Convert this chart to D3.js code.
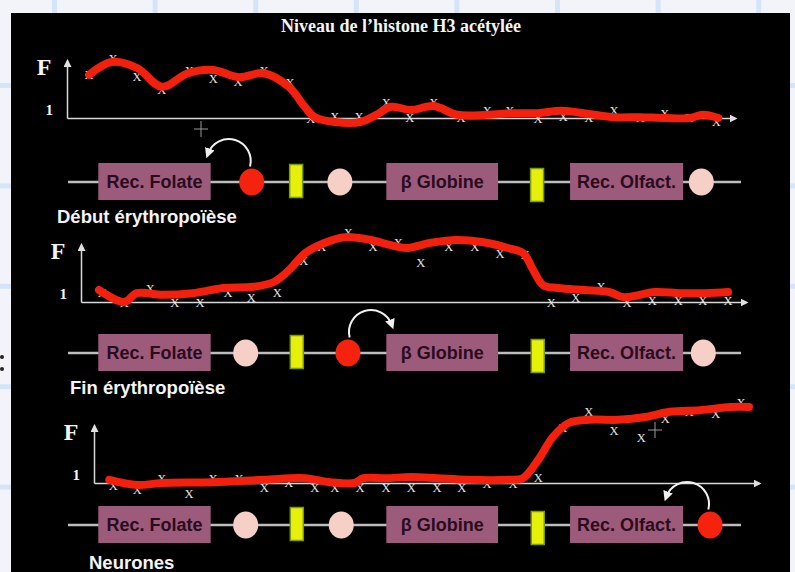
<!DOCTYPE html>
<html>
<head>
<meta charset="utf-8">
<script src="https://cdn.jsdelivr.net/npm/d3@7"></script>
<style>
  body { margin: 0; background: #f2f4fa; }
</style>
</head>
<body>
<div id="chart"></div>
<script>
// ---- data ----
var title = "Niveau de l\u2019histone H3 acétylée";
var stages = ["Début érythropoïèse", "Fin érythropoïèse", "Neurones"];
var genes = ["Rec. Folate", "\u03b2 Globine", "Rec. Olfact."];
var geneStart = [4.5, 47.3, 74.6];   // locus position, 0-100
var geneEnd = [21.2, 63.9, 91.4];

// regulatory elements: on = acetylated (red), off = pink, ins = insulator (yellow)
var elemType1 = ["on", "ins", "off", "ins", "off"];
var elemPos1 = [27.3, 33.9, 40.4, 69.7, 94.1];
var elemType2 = ["off", "ins", "on", "ins", "off"];
var elemPos2 = [26.4, 34.0, 41.6, 69.8, 94.4];
var elemType3 = ["off", "ins", "off", "ins", "on"];
var elemPos3 = [26.4, 34.0, 40.6, 69.8, 95.4];
var loopDir = [-1, 1, -1];

// measured enrichment (x marks): [position, F]
var marks1 = [[3.3,5.4],[6.9,7.4],[10.5,5.25],[14.2,3.6],[18.3,5.9],[21.9,4.9],[25.6,4.6],[29.5,5.9],[33.4,4.4],
  [36.5,0],[40.1,0.25],[43.7,0.25],[47.8,1.9],[51.3,0.1],[54.9,1.9],[59.0,0.1],[62.9,1.0],[66.3,1.0],[70.5,0],
  [74.3,0.25],[78.1,0.1],[81.9,1.0],[85.8,0.1],[89.5,0.6],[93.1,0.1],[97.2,-0.4]];
var marks2 = [[3.2,1.25],[6.5,-0.1],[10.4,1.75],[14.1,-0.1],[17.9,0],[22.1,1.25],[25.6,0.6],[29.5,1.25],[33.5,5.25],
  [36.2,6.9],[40.2,8.75],[43.9,6.9],[47.7,7.4],[51.1,4.9],[55.3,6.9],[59.2,6.9],[63.0,6.1],[66.8,5.9],[70.7,0],
  [74.4,0.6],[78.2,1.9],[82.1,0],[85.9,0.25],[89.8,0.25],[93.5,0.25],[97.3,0.25]];
var marks3 = [[2.9,-0.25],[6.5,-0.75],[10.2,0.6],[14.3,-1.25],[17.9,0.6],[21.8,0.6],[25.6,-0.6],[29.3,0.1],[33.2,-0.6],
  [36.2,-0.6],[40.0,-0.5],[43.9,-0.5],[47.7,-0.5],[51.6,-0.5],[55.3,-0.5],[59.1,-0.1],[63.0,0],[66.8,0.75],[70.5,6.9],
  [74.4,8.9],[78.2,6.6],[82.3,5.75],[85.9,8.1],[89.5,8.9],[93.5,8.75],[97.3,10.1]];

// hand-drawn trend (red): [position, F]
var trend1 = [[3.3,5.4],[6.7,7.0],[10.5,6.25],[14.2,3.9],[18.1,5.6],[21.9,6.0],[25.7,5.1],[29.5,5.6],[33.2,3.9],
  [35.6,1.4],[37.1,0.1],[40.1,-0.5],[43.9,-0.5],[46.3,0.4],[48.5,1.4],[51.5,1.0],[54.9,1.5],[58.4,0.4],[62.9,0.4],
  [66.8,0.6],[70.5,0.6],[74.0,0.9],[78.1,0.5],[81.9,0.1],[85.8,0.1],[89.5,0],[93.3,0],[95.2,0.4],[97.5,0]];
var trend2 = [[2.7,1.5],[6.5,0],[8.4,1.1],[12.2,0.9],[16.8,1.1],[21.4,1.75],[26.0,1.9],[29.0,2.5],[31.3,4.0],
  [33.7,6.1],[36.7,7.4],[39.7,8.1],[43.6,7.75],[46.6,7.1],[48.9,6.75],[52.6,7.4],[56.5,7.75],[60.3,7.5],[64.2,6.75],
  [66.5,6.1],[68.0,4.0],[69.5,2.1],[71.7,1.75],[75.6,1.5],[79.4,1.25],[81.7,0.6],[86.3,1.25],[90.1,1.1],[94.0,1.1],[97.3,1.25]];
var trend3 = [[2.3,0.4],[6.5,-0.25],[10.2,0],[17.9,0.1],[25.6,0.4],[31.7,0.6],[35.5,0.1],[39.2,0],[40.5,0.6],
  [43.9,0.6],[47.7,0.75],[51.6,0.6],[56.1,0.4],[62.3,0.4],[64.5,0.6],[66.8,2.9],[69.0,5.75],[71.4,7.5],[74.4,7.9],
  [78.9,7.9],[82.9,8.25],[86.6,8.9],[91.1,9.1],[95.8,9.5],[98.5,9.5]];

var allMarks = [marks1, marks2, marks3];
var allTrends = [trend1, trend2, trend3];
var allTypes = [elemType1, elemType2, elemType3];
var allPos = [elemPos1, elemPos2, elemPos3];

// ---- layout ----
var W = 795, H = 572;
var panels = [
  {x0: 67, x1: 735, base: 118, row: 182, lx: 57, ly: 223, cross: [201, 129]},
  {x0: 81, x1: 746, base: 302, row: 353, lx: 70, ly: 394, cross: null},
  {x0: 94, x1: 759, base: 483, row: 525, lx: 89, ly: 569, cross: [655, 430]}
];

var svg = d3.select("#chart").append("svg")
  .attr("width", W)
  .attr("height", H);

// slide backdrop grid
svg.selectAll(".gv").data(d3.range(52, W, 100.6)).enter()
  .append("rect").attr("class", "gv")
  .attr("x", d => d).attr("y", 0).attr("width", 5).attr("height", H)
  .attr("fill", "#d5e5f8");
svg.selectAll(".gh").data(d3.range(83, H, 100.4)).enter()
  .append("rect").attr("class", "gh")
  .attr("x", 0).attr("y", d => d).attr("width", W).attr("height", 5)
  .attr("fill", "#d5e5f8");
svg.selectAll(".colon").data([357, 369]).enter()
  .append("circle").attr("cx", 2).attr("cy", d => d).attr("r", 2).attr("fill", "#222");

svg.append("rect")
  .attr("x", 11).attr("y", 13)
  .attr("width", 779).attr("height", H)
  .attr("fill", "#000");

var defs = svg.append("defs");
defs.append("marker")
  .attr("id", "axArrow")
  .attr("viewBox", "0 -4 8 8")
  .attr("refX", 6).attr("refY", 0)
  .attr("markerUnits", "userSpaceOnUse")
  .attr("markerWidth", 8).attr("markerHeight", 8)
  .attr("orient", "auto")
  .append("path").attr("d", "M0,-4L8,0L0,4Z").attr("fill", "#e0e0e0");
defs.append("marker")
  .attr("id", "loopArrow")
  .attr("viewBox", "0 -5 10 10")
  .attr("refX", 5).attr("refY", 0)
  .attr("markerUnits", "userSpaceOnUse")
  .attr("markerWidth", 10).attr("markerHeight", 10)
  .attr("orient", "auto")
  .append("path").attr("d", "M0,-5L10,0L0,5Z").attr("fill", "#f0f0f0");

svg.append("text")
  .attr("x", 401).attr("y", 32)
  .attr("text-anchor", "middle")
  .style("font-family", "'Liberation Serif', serif")
  .style("font-weight", "bold")
  .style("font-size", "18px")
  .attr("fill", "#f4f4f4")
  .text(title);

var locus = d3.scaleLinear().domain([0, 100]).range([68, 741]);

var fill = {on: "#f5220e", off: "#f6cfc6"};

panels.forEach(function(p, k) {
  var x = d3.scaleLinear().domain([0, 100]).range([p.x0, p.x1]);
  var y = d3.scaleLinear().domain([0, 7.2]).range([p.base, p.base - 57.6]);
  var g = svg.append("g");

  // axes
  var xAx = g.append("g")
    .attr("transform", "translate(0," + p.base + ")")
    .call(d3.axisBottom(x).tickValues([]).tickSizeOuter(0));
  var yAx = g.append("g")
    .attr("transform", "translate(" + p.x0 + ",0)")
    .call(d3.axisLeft(y).tickValues([1]).tickSize(0).tickPadding(14).tickFormat(d3.format("d")));
  [xAx, yAx].forEach(function(a) {
    a.select(".domain")
      .attr("stroke", "#d8d8d8")
      .attr("stroke-width", 1.5)
      .attr("marker-end", "url(#axArrow)");
  });
  yAx.selectAll("text")
    .attr("fill", "#f4f4f4")
    .style("font-family", "'Liberation Serif', serif")
    .style("font-weight", "bold")
    .style("font-size", "15px");

  g.append("text")
    .attr("x", p.x0 - 23).attr("y", p.base - 43)
    .attr("text-anchor", "middle")
    .style("font-family", "'Liberation Serif', serif")
    .style("font-weight", "bold")
    .style("font-size", "24px")
    .attr("fill", "#f4f4f4")
    .text("F");

  // x marks
  g.selectAll(".mk")
    .data(allMarks[k])
    .enter().append("text")
    .attr("class", "mk")
    .attr("x", d => x(d[0]))
    .attr("y", d => y(d[1]) + 4.5)
    .attr("text-anchor", "middle")
    .style("font-family", "'Liberation Serif', serif")
    .style("font-size", "12.5px")
    .attr("fill", "#e6e6e6")
    .text("X");

  // red trend
  var line = d3.line()
    .x(d => x(d[0]))
    .y(d => y(d[1]))
    .curve(d3.curveCatmullRom.alpha(0.5));
  g.append("path")
    .datum(allTrends[k])
    .attr("d", line)
    .attr("fill", "none")
    .attr("stroke", "#f2200c")
    .attr("stroke-width", 8)
    .attr("stroke-linecap", "round")
    .attr("stroke-linejoin", "round");

  if (p.cross) {
    var c = g.append("g").attr("stroke", "#9a9a9a").attr("stroke-width", 1);
    c.append("line").attr("x1", p.cross[0] - 7).attr("x2", p.cross[0] + 7).attr("y1", p.cross[1]).attr("y2", p.cross[1]);
    c.append("line").attr("x1", p.cross[0]).attr("x2", p.cross[0]).attr("y1", p.cross[1] - 8).attr("y2", p.cross[1] + 8);
  }

  // gene row
  g.append("line")
    .attr("x1", locus(0)).attr("x2", locus(100))
    .attr("y1", p.row).attr("y2", p.row)
    .attr("stroke", "#bdbdbd")
    .attr("stroke-width", 2.5);

  var box = g.selectAll(".gene")
    .data(genes)
    .enter().append("g").attr("class", "gene");
  box.append("rect")
    .attr("x", (d, i) => locus(geneStart[i]))
    .attr("y", p.row - 19)
    .attr("width", (d, i) => locus(geneEnd[i]) - locus(geneStart[i]))
    .attr("height", 37)
    .attr("fill", "#9d5b7c");
  box.append("text")
    .attr("x", (d, i) => (locus(geneStart[i]) + locus(geneEnd[i])) / 2)
    .attr("y", p.row + 6)
    .attr("text-anchor", "middle")
    .style("font-family", "'Liberation Sans', Arial, sans-serif")
    .style("font-weight", "bold")
    .style("font-size", "18px")
    .attr("fill", "#2a0c1e")
    .text(d => d);

  var types = allTypes[k], pos = allPos[k];
  types.forEach(function(t, i) {
    var cx = locus(pos[i]);
    if (t === "ins") {
      g.append("rect")
        .attr("x", cx - 6.5)
        .attr("y", p.row - 16.5 + (i < 2 ? -1 : 3))
        .attr("width", 13).attr("height", 33)
        .attr("fill", "#e6f00a")
        .attr("stroke", "#7a9a10")
        .attr("stroke-width", 1.5);
    } else {
      g.append("ellipse")
        .attr("cx", cx).attr("cy", p.row)
        .attr("rx", 12.5).attr("ry", 13.5)
        .attr("fill", fill[t]);
    }
    if (t === "on") {
      var dir = loopDir[k];
      var ax = cx + dir * 23, ay = p.row - 21, r = 22;
      var path = d3.path();
      if (dir < 0) {
        path.moveTo(ax + r * Math.cos(0.25), ay + r * Math.sin(0.25));
        path.arc(ax, ay, r, 0.25, -Math.PI + 0.35, true);
      } else {
        path.moveTo(ax + r * Math.cos(Math.PI - 0.25), ay + r * Math.sin(Math.PI - 0.25));
        path.arc(ax, ay, r, Math.PI - 0.25, 2 * Math.PI - 0.35, false);
      }
      g.append("path")
        .attr("d", path.toString())
        .attr("fill", "none")
        .attr("stroke", "#f0f0f0")
        .attr("stroke-width", 2)
        .attr("marker-end", "url(#loopArrow)");
    }
  });

  g.append("text")
    .attr("x", p.lx).attr("y", p.ly)
    .style("font-family", "'Liberation Sans', Arial, sans-serif")
    .style("font-weight", "bold")
    .style("font-size", "18.5px")
    .attr("fill", "#f4f4f4")
    .text(stages[k]);
});
</script>
</body>
</html>
